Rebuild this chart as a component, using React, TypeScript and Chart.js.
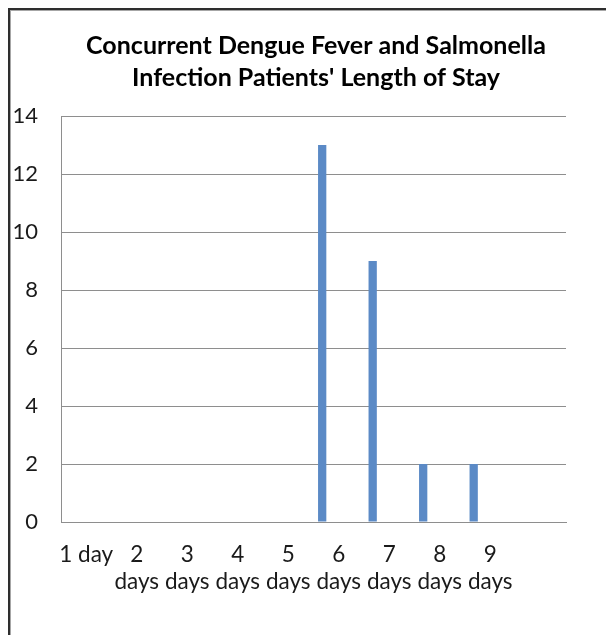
import React, { useEffect, useRef } from "react";
import { Chart, registerables } from "chart.js";

Chart.register(...registerables);

// ---- data ----
const stayLabels = ["1 day", "2 days", "3 days", "4 days", "5 days", "6 days", "7 days", "8 days", "9 days", ""];
const patients = [0, 0, 0, 0, 0, 13, 9, 2, 2, 0];
// empty companion series (reserve slots in each cluster, as in the original sheet)
const series2 = [null, null, null, null, null, null, null, null, null, null];
const series3 = [null, null, null, null, null, null, null, null, null, null];
const series4 = [null, null, null, null, null, null, null, null, null, null];
const series5 = [null, null, null, null, null, null, null, null, null, null];
const yTicks = [0, 2, 4, 6, 8, 10, 12, 14];
const titleLines = ["Concurrent Dengue Fever and Salmonella", "Infection Patients' Length of Stay"];

const FONT = "Lato, 'Open Sans', sans-serif";
const BAR = "#5B8AC6";
const GRID = "#8E8E8E";

export default function App() {
  const ref = useRef<HTMLCanvasElement>(null);

  useEffect(() => {
    if (!ref.current) return;
    const labels = stayLabels.map((l) => (l.includes("days") ? l.split(" ") : l));
    const mk = (data: (number | null)[]) => ({
      data,
      backgroundColor: BAR,
      borderWidth: 0,
      categoryPercentage: 0.82,
      barPercentage: 1,
    });
    const chart = new Chart(ref.current, {
      type: "bar",
      data: {
        labels,
        datasets: [mk(patients), mk(series2), mk(series3), mk(series4), mk(series5)],
      },
      options: {
        animation: false,
        responsive: false,
        layout: { padding: { left: 0, right: 0, top: 0, bottom: 21 } },
        plugins: {
          legend: { display: false },
          tooltip: { enabled: false },
          title: {
            display: true,
            text: titleLines,
            color: "#000",
            font: { family: FONT, size: 25, weight: "bold", lineHeight: 32 / 25 },
            padding: { top: 19, bottom: 22 },
          },
        },
        scales: {
          x: {
            grid: { display: false, drawTicks: false },
            border: { display: true, color: GRID, width: 1 },
            ticks: {
              color: "#1a1a1a",
              font: { family: FONT, size: 22.5, lineHeight: 27 / 22.5 },
              padding: 19,
              maxRotation: 0,
              minRotation: 0,
              autoSkip: false,
            },
          },
          y: {
            min: 0,
            max: 14,
            afterBuildTicks: (s: any) => {
              s.ticks = yTicks.map((v) => ({ value: v }));
            },
            grid: { color: GRID, drawTicks: false, lineWidth: 1 },
            border: { display: true, color: GRID, width: 1 },
            ticks: {
              color: "#1a1a1a",
              font: { family: FONT, size: 22 },
              padding: 23,
            },
            afterFit: (s: any) => {
              s.width = 50;
            },
          },
          yRight: {
            position: "right",
            display: true,
            grid: { display: false, drawTicks: false },
            border: { display: false },
            ticks: { display: false },
            afterFit: (s: any) => {
              s.width = 55;
            },
          },
        },
      },
    } as any);
    return () => chart.destroy();
  }, []);

  return (
    <div
      style={{
        borderLeft: "2px solid #2e2e2e",
        borderTop: "2px solid #2e2e2e",
        width: 601,
        overflow: "hidden",
      }}
    >
      <div style={{ borderLeft: "1px solid #a6a6a6", borderTop: "1px solid #a6a6a6" }}>
        <canvas ref={ref} width={610} height={624} style={{ display: "block" }} />
      </div>
    </div>
  );
}
